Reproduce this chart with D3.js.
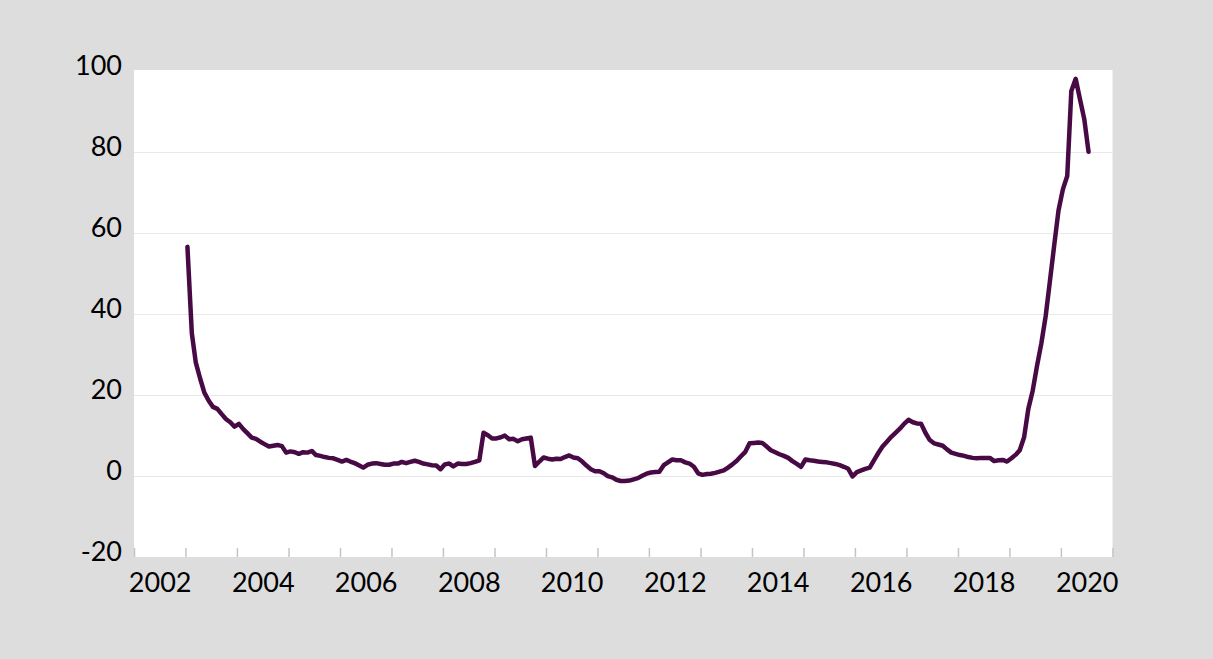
<!DOCTYPE html>
<html>
<head>
<meta charset="utf-8">
<script src="https://cdn.jsdelivr.net/npm/d3@7"></script>
<style>
  html, body { margin: 0; padding: 0; background: #dddddd; }
  svg { display: block; }
</style>
</head>
<body>
<svg id="chart"></svg>
<script>
// monthly series, first value is Jan 2003
const firstYear = 2003;
const values = [
  56.5, 35.2, 28.0, 24.0, 20.5, 18.5, 17.0, 16.5, 15.2, 14.0, 13.2, 12.1, // 2003
  12.8, 11.5, 10.5, 9.4, 9.1, 8.4, 7.8, 7.2, 7.4, 7.6, 7.3, 5.7,          // 2004
  6.0, 5.8, 5.4, 5.8, 5.7, 6.1, 5.1, 4.9, 4.6, 4.4, 4.3, 3.9,              // 2005
  3.5, 3.9, 3.5, 3.1, 2.6, 2.0, 2.7, 3.0, 3.1, 2.9, 2.7, 2.7,              // 2006
  3.0, 3.0, 3.4, 3.1, 3.4, 3.7, 3.4, 3.0, 2.8, 2.6, 2.5, 1.6,              // 2007
  2.8, 3.0, 2.3, 3.0, 2.9, 2.9, 3.1, 3.4, 3.8, 10.6, 10.0, 9.2,            // 2008
  9.2, 9.5, 9.9, 9.0, 9.1, 8.5, 9.0, 9.2, 9.4, 2.4, 3.5, 4.5,              // 2009
  4.2, 4.0, 4.2, 4.1, 4.6, 5.0, 4.5, 4.3, 3.5, 2.5, 1.6, 1.1,              // 2010
  1.1, 0.6, -0.1, -0.4, -1.0, -1.3, -1.3, -1.2, -0.9, -0.6, 0.0, 0.5,      // 2011
  0.8, 0.9, 1.0, 2.6, 3.3, 4.0, 3.8, 3.8, 3.3, 3.0, 2.2, 0.6,              // 2012
  0.2, 0.4, 0.5, 0.7, 1.0, 1.3, 2.0, 2.8, 3.7, 4.8, 5.9, 8.0,              // 2013
  8.1, 8.2, 8.1, 7.2, 6.3, 5.8, 5.3, 4.9, 4.4, 3.6, 2.9, 2.2,              // 2014
  4.0, 3.8, 3.7, 3.5, 3.4, 3.3, 3.1, 2.9, 2.6, 2.2, 1.7, -0.2,             // 2015
  0.9, 1.3, 1.7, 2.0, 3.8, 5.6, 7.2, 8.4, 9.6, 10.6, 11.6, 12.8,           // 2016
  13.8, 13.2, 12.9, 12.8, 10.6, 8.8, 8.0, 7.7, 7.4, 6.5, 5.7, 5.4,         // 2017
  5.1, 4.9, 4.6, 4.4, 4.3, 4.4, 4.4, 4.4, 3.6, 3.8, 3.9, 3.5,              // 2018
  4.3, 5.2, 6.3, 9.5, 16.5, 21.0, 27.0, 32.6, 39.4, 48.0, 57.0, 65.5,      // 2019
  70.7, 74.0, 95.0, 98.0, 93.0, 88.0, 80.0                                 // 2020
];
const yTicks = [-20, 0, 20, 40, 60, 80, 100];
const xLabelYears = [2002, 2004, 2006, 2008, 2010, 2012, 2014, 2016, 2018, 2020];
const axisYears = [2002, 2021]; // first and last year boundary of the axis

const width = 1213, height = 659;
const plot = { left: 134, right: 1112.5, top: 70.7, bottom: 556.7 };
const lineColor = "#470a44";
const font = "Lato, 'Open Sans', sans-serif";

const data = values.map((v, i) => ({
  date: new Date(firstYear + Math.floor(i / 12), i % 12, 15),
  v: v
}));

const x = d3.scaleTime()
  .domain([new Date(axisYears[0], 0, 1), new Date(axisYears[1], 0, 1)])
  .range([plot.left, plot.right]);

const y = d3.scaleLinear()
  .domain([yTicks[0], yTicks[yTicks.length - 1]])
  .range([plot.bottom, plot.top]);

const svg = d3.select("#chart")
  .attr("width", width)
  .attr("height", height)
  .attr("viewBox", `0 0 ${width} ${height}`);

svg.append("rect")
  .attr("width", width)
  .attr("height", height)
  .attr("fill", "#dddddd");

svg.append("rect")
  .attr("x", plot.left)
  .attr("y", 70)
  .attr("width", plot.right - plot.left)
  .attr("height", 557 - 70)
  .attr("fill", "#ffffff");

// horizontal gridlines
svg.append("g")
  .selectAll("line")
  .data(yTicks.filter((t) => t > yTicks[0] && t < yTicks[yTicks.length - 1]))
  .join("line")
  .attr("x1", plot.left)
  .attr("x2", plot.right)
  .attr("y1", (d) => Math.round(y(d)) + 0.5)
  .attr("y2", (d) => Math.round(y(d)) + 0.5)
  .attr("stroke", "#e9e9e9")
  .attr("stroke-width", 1.2);

// y axis labels (plain hyphen for negatives, like the original)
const yAxis = svg.append("g")
  .attr("transform", `translate(${plot.left},0)`)
  .call(
    d3.axisLeft(y)
      .tickValues(yTicks)
      .tickSize(0)
      .tickPadding(12)
      .tickFormat((d) => String(d))
  );
yAxis.select(".domain").remove();
yAxis.selectAll("text")
  .attr("dy", "0.15em")
  .attr("fill", "#000")
  .style("font-family", font)
  .style("font-size", "27px");

// x axis year ticks (inward)
const xTickAxis = svg.append("g")
  .attr("transform", "translate(0,557)")
  .call(
    d3.axisBottom(x)
      .tickValues(d3.timeYear.range(new Date(axisYears[0], 0, 1), new Date(axisYears[1], 0, 2)))
      .tickSize(-9)
      .tickFormat("")
  );
xTickAxis.select(".domain").remove();
xTickAxis.selectAll("line")
  .attr("stroke", "#c4c4c4")
  .attr("stroke-width", 1.5);

// x axis labels centred in each labelled year
const xLabelAxis = svg.append("g")
  .attr("transform", "translate(0,557)")
  .call(
    d3.axisBottom(x)
      .tickValues(xLabelYears.map((yr) => new Date(yr, 6, 2)))
      .tickSize(0)
      .tickFormat(d3.timeFormat("%Y"))
  );
xLabelAxis.select(".domain").remove();
xLabelAxis.selectAll("text")
  .attr("y", 35)
  .attr("dy", 0)
  .attr("fill", "#000")
  .style("font-family", font)
  .style("font-size", "27px");

// the series
const line = d3.line()
  .x((d) => x(d.date))
  .y((d) => y(d.v));

svg.append("path")
  .datum(data)
  .attr("d", line)
  .attr("fill", "none")
  .attr("stroke", lineColor)
  .attr("stroke-width", 4.5)
  .attr("stroke-linejoin", "round")
  .attr("stroke-linecap", "round");
</script>
</body>
</html>
